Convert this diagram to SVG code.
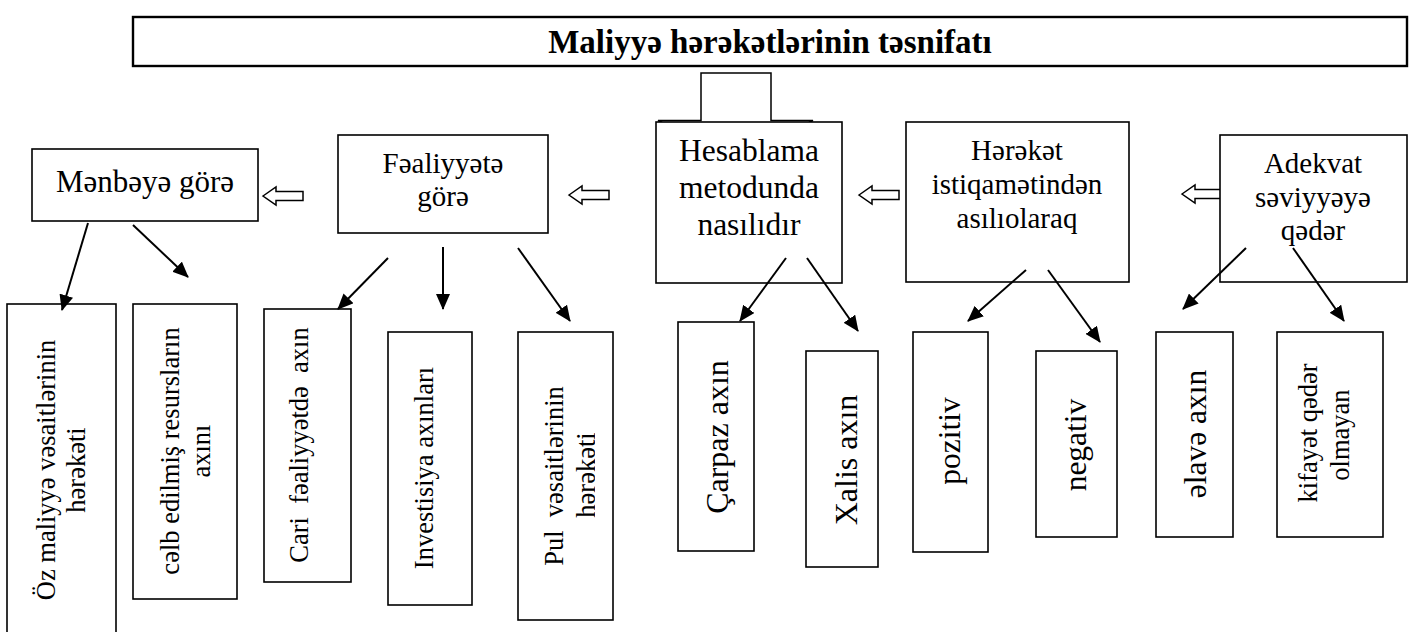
<svg xmlns="http://www.w3.org/2000/svg" width="1415" height="632" viewBox="0 0 1415 632">
<style>
  .box { fill: #fff; stroke: #000; stroke-width: 1.6; }
  .t { font-family: "Liberation Serif", "DejaVu Serif", "Times New Roman", serif; fill: #000; }
  .c { text-anchor: middle; }
  .conn { stroke: #000; stroke-width: 2; fill: none; marker-end: url(#ah); }
  .hollow { fill: #fff; stroke: #000; stroke-width: 1.5; }
  .pre { white-space: pre; }
</style>
<defs>
  <marker id="ah" markerUnits="userSpaceOnUse" markerWidth="16" markerHeight="14" refX="15" refY="7" orient="auto">
    <path d="M0,0 L16,7 L0,14 Z" fill="#000"/>
  </marker>
  <path id="larr" d="M0,0 L13,-9 L13,-4.5 L40,-4.5 L40,4.5 L13,4.5 L13,9 Z"/>
  <clipPath id="pulclip"><rect x="518" y="332" width="77" height="288"/></clipPath>
</defs>
<rect width="1415" height="632" fill="#fff"/>

<g id="title">
  <rect x="133" y="17" width="1274" height="49" fill="#fff" stroke="#000" stroke-width="2.4"/>
  <text class="t c" x="770" y="53" font-size="33" font-weight="bold">Maliyyə hərəkətlərinin təsnifatı</text>
</g>

<g id="down-block-arrow">
  <path d="M701,73 L771,73 L771,120.5 L813,120.5 L736,160 L658,120.5 L701,120.5 Z" class="hollow"/>
</g>

<g id="hollow-arrows">
  <use href="#larr" class="hollow" transform="translate(263,196)"/>
  <use href="#larr" class="hollow" transform="translate(569,195)"/>
  <use href="#larr" class="hollow" transform="translate(859,195)"/>
  <use href="#larr" class="hollow" transform="translate(1182,194)"/>
</g>

<g id="n-menbeye">
  <rect class="box" x="32" y="149" width="226" height="72"/>
  <text class="t c" x="145" y="192" font-size="31">Mənbəyə görə</text>
</g>
<g id="n-fealiyyete">
  <rect class="box" x="338" y="135" width="210" height="98"/>
  <text class="t c" x="443" y="173" font-size="29">Fəaliyyətə</text>
  <text class="t c" x="443" y="206" font-size="29">görə</text>
</g>
<g id="n-hesablama">
  <rect class="box" x="656" y="122" width="186" height="161"/>
  <text class="t c" x="749" y="161" font-size="31.5">Hesablama</text>
  <text class="t c" x="749" y="198" font-size="31.5">metodunda</text>
  <text class="t c" x="749" y="235" font-size="31.5">nasılıdır</text>
</g>
<g id="n-hereket">
  <rect class="box" x="906" y="122" width="223" height="160"/>
  <text class="t c" x="1017" y="160" font-size="29">Hərəkət</text>
  <text class="t c" x="1017" y="194" font-size="29">istiqamətindən</text>
  <text class="t c" x="1017" y="228" font-size="29">asılıolaraq</text>
</g>
<g id="n-adekvat">
  <rect class="box" x="1220" y="135" width="187" height="147"/>
  <text class="t c" x="1313" y="173" font-size="29">Adekvat</text>
  <text class="t c" x="1313" y="207" font-size="29">səviyyəyə</text>
  <text class="t c" x="1313" y="240" font-size="29">qədər</text>
</g>

<g id="n-oz">
  <rect class="box" x="7" y="304" width="109" height="340"/>
  <text class="t c" font-size="26.5" transform="translate(55,470) rotate(-90)">Öz maliyyə vəsaitlərinin</text>
  <text class="t c" font-size="26.5" transform="translate(85,470) rotate(-90)">hərəkəti</text>
</g>
<g id="n-celb">
  <rect class="box" x="133" y="304" width="104" height="295"/>
  <text class="t c" font-size="26.5" transform="translate(179,451) rotate(-90)">cəlb edilmiş resursların</text>
  <text class="t c" font-size="26.5" transform="translate(210,451) rotate(-90)">axını</text>
</g>
<g id="n-cari">
  <rect class="box" x="264" y="309" width="87" height="273"/>
  <text class="t c pre" font-size="26.5" transform="translate(308,445) rotate(-90)">Cari  fəaliyyətdə  axın</text>
</g>
<g id="n-investisiya">
  <rect class="box" x="388" y="332" width="84" height="273"/>
  <text class="t c" font-size="26.5" transform="translate(433,468) rotate(-90)">Investisiya axınları</text>
</g>
<g id="n-pul">
  <rect class="box" x="518" y="332" width="95" height="288"/>
  <text class="t c pre" font-size="26.5" transform="translate(563,476) rotate(-90)">Pul  vəsaitlərinin</text>
  <g clip-path="url(#pulclip)">
    <text class="t c" font-size="26.5" transform="translate(595,475) rotate(-90)">hərəkəti</text>
  </g>
</g>
<g id="n-carpaz">
  <rect class="box" x="678" y="322" width="76" height="229"/>
  <text class="t c" font-size="32" transform="translate(728,437) rotate(-90)">Çarpaz axın</text>
</g>
<g id="n-xalis">
  <rect class="box" x="806" y="351" width="72" height="216"/>
  <text class="t c" font-size="32" transform="translate(857,460) rotate(-90)">Xalis axın</text>
</g>
<g id="n-pozitiv">
  <rect class="box" x="913" y="332" width="75" height="220"/>
  <text class="t c" font-size="31.5" transform="translate(960,441) rotate(-90)">pozitiv</text>
</g>
<g id="n-negativ">
  <rect class="box" x="1036" y="351" width="81" height="186"/>
  <text class="t c" font-size="31.5" transform="translate(1086,445) rotate(-90)">negativ</text>
</g>
<g id="n-elave">
  <rect class="box" x="1156" y="332" width="77" height="205"/>
  <text class="t c" font-size="31.5" transform="translate(1206,434) rotate(-90)">əlavə axın</text>
</g>
<g id="n-kifayet">
  <rect class="box" x="1277" y="332" width="106" height="205"/>
  <text class="t c" font-size="26.5" transform="translate(1317,433) rotate(-90)">kifayət qədər</text>
  <text class="t c" font-size="26.5" transform="translate(1349,435) rotate(-90)">olmayan</text>
</g>

<g id="connectors">
  <line class="conn" x1="88" y1="223" x2="62" y2="310"/>
  <line class="conn" x1="133" y1="225" x2="188" y2="277"/>
  <line class="conn" x1="388" y1="258" x2="338" y2="309"/>
  <line class="conn" x1="443" y1="247" x2="443" y2="309"/>
  <line class="conn" x1="518" y1="248" x2="570" y2="321"/>
  <line class="conn" x1="786" y1="258" x2="740" y2="321"/>
  <line class="conn" x1="807" y1="258" x2="858" y2="331"/>
  <line class="conn" x1="1026" y1="270" x2="968" y2="321"/>
  <line class="conn" x1="1048" y1="270" x2="1100" y2="342"/>
  <line class="conn" x1="1246" y1="248" x2="1183" y2="309"/>
  <line class="conn" x1="1293" y1="248" x2="1344" y2="321"/>
</g>
</svg>
